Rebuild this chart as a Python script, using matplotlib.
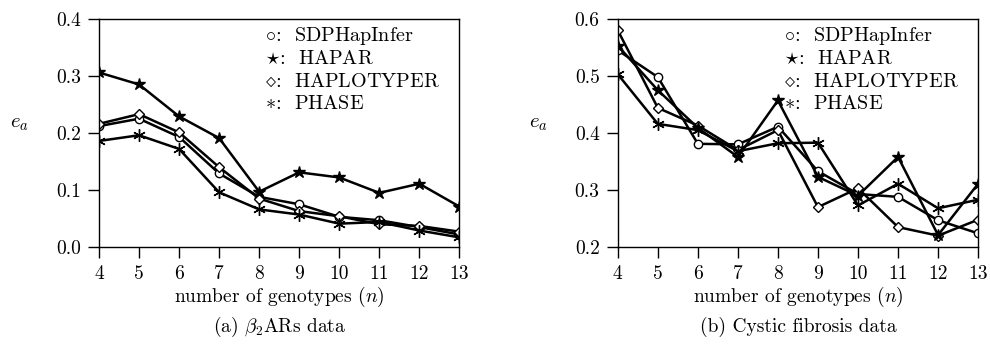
import matplotlib
matplotlib.use("Agg")
import matplotlib.pyplot as plt

plt.rcParams['font.family'] = 'cmr10'
plt.rcParams['mathtext.fontset'] = 'cm'
plt.rcParams['axes.formatter.use_mathtext'] = True

n = [4, 5, 6, 7, 8, 9, 10, 11, 12, 13]

# (a) beta2ARs data
a_sdp = [0.212, 0.225, 0.193, 0.129, 0.088, 0.075, 0.053, 0.047, 0.035, 0.022]
a_hapar = [0.306, 0.285, 0.229, 0.191, 0.097, 0.131, 0.122, 0.095, 0.111, 0.071]
a_haplo = [0.216, 0.233, 0.201, 0.140, 0.085, 0.063, 0.054, 0.040, 0.037, 0.027]
a_phase = [0.186, 0.196, 0.172, 0.096, 0.066, 0.057, 0.041, 0.044, 0.029, 0.017]

# (b) cystic fibrosis data
b_sdp = [0.545, 0.498, 0.381, 0.380, 0.411, 0.333, 0.293, 0.288, 0.247, 0.224]
b_hapar = [0.553, 0.475, 0.409, 0.358, 0.457, 0.323, 0.290, 0.358, 0.221, 0.311]
b_haplo = [0.580, 0.444, 0.413, 0.370, 0.405, 0.270, 0.303, 0.235, 0.220, 0.248]
b_phase = [0.503, 0.416, 0.405, 0.368, 0.382, 0.383, 0.273, 0.311, 0.268, 0.283]

legend_rows = [r'$\circ$:  SDPHapInfer', r'$\star$:  HAPAR',
               r'$\diamond$:  HAPLOTYPER', r'$\ast$:  PHASE']

fig = plt.figure(figsize=(9.9, 3.56), dpi=100)
ax1 = fig.add_axes([0.100, 0.306, 0.364, 0.641])
ax2 = fig.add_axes([0.624, 0.306, 0.364, 0.641])


def draw(ax, sdp, hapar, haplo, phase, ylim, yticks):
    kw = dict(color='black', lw=1.8)
    ax.plot(n, sdp, marker='o', ms=6, mfc='white', mec='black', mew=1.0, **kw)
    ax.plot(n, haplo, marker='D', ms=5.5, mfc='white', mec='black', mew=1.0, **kw)
    ax.plot(n, hapar, marker='*', ms=9, mfc='black', mec='black', **kw)
    ax.plot(n, phase, marker=(6, 2, 0), ms=9, mec='black', mew=1.0, **kw)
    ax.set_xlim(4, 13)
    ax.set_ylim(*ylim)
    ax.set_xticks(n)
    ax.set_xticklabels([str(v) for v in n])
    ax.set_yticks(yticks)
    ax.set_yticklabels(['%.1f' % v for v in yticks])
    ax.tick_params(direction='out', length=8, width=1.0, labelsize=14, pad=5,
                   top=False, right=False)
    for s in ax.spines.values():
        s.set_linewidth(1.0)
    ax.set_ylabel(r'$e_a$', rotation=0, fontsize=15)
    ax.yaxis.set_label_coords(-0.22, 0.5)
    for i, t in enumerate(legend_rows):
        ax.text(0.46, 0.925 - i * 0.1, t, transform=ax.transAxes,
                fontsize=14.5, va='center', ha='left')


draw(ax1, a_sdp, a_hapar, a_haplo, a_phase, (0.0, 0.4), [0.0, 0.1, 0.2, 0.3, 0.4])
draw(ax2, b_sdp, b_hapar, b_haplo, b_phase, (0.2, 0.6), [0.2, 0.3, 0.4, 0.5, 0.6])

fig.text(0.282, 1 - 297 / 356, r'number of genotypes ($n$)', ha='center', va='center', fontsize=14)
fig.text(0.806, 1 - 297 / 356, r'number of genotypes ($n$)', ha='center', va='center', fontsize=14)
fig.text(0.282, 1 - 327 / 356, r'(a) $\beta_2$ARs data', ha='center', va='center', fontsize=14)
fig.text(0.806, 1 - 327 / 356, r'(b) Cystic fibrosis data', ha='center', va='center', fontsize=14)

fig.savefig('out.png', dpi=100)
